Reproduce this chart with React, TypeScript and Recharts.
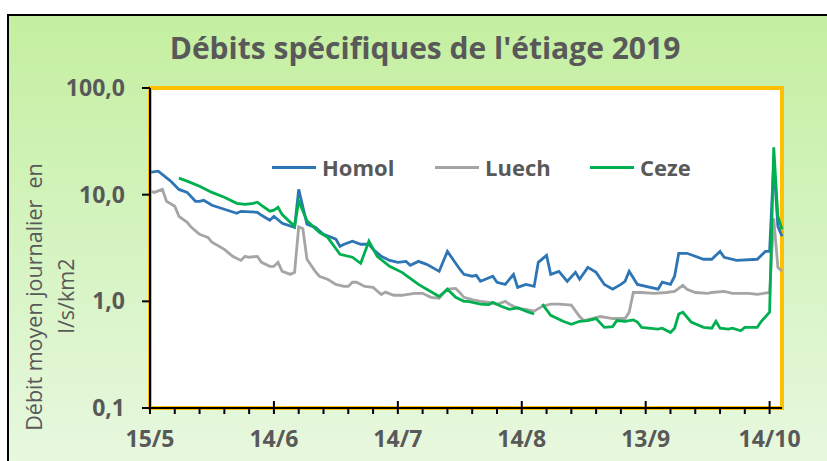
import React from 'react'
import { LineChart, Line, XAxis, YAxis, ReferenceArea } from 'recharts'

// day index from 15/5, value in l/s/km2
const homolPoints: [number, number][] = [
  [0, 16.2], [2, 16.6], [5, 13.4], [7, 11.2], [9, 10.5], [11, 8.67], [12, 8.67], [13, 8.86],
  [15, 7.95], [18, 7.3], [21, 6.69], [22, 6.98], [26, 6.84], [27, 6.41], [29, 5.75], [30, 6.27],
  [32, 5.39], [35, 4.94], [36, 11.2], [38, 5.28], [40, 4.94], [42, 4.25], [45, 3.82], [46, 3.28],
  [47, 3.43], [49, 3.66], [51, 3.43], [53, 3.43], [54, 3.07], [56, 2.64], [58, 2.42], [60, 2.32],
  [62, 2.37], [63, 2.18], [65, 2.37], [67, 2.22], [70, 1.91], [72, 2.94], [75, 2.0], [76, 1.79],
  [78, 1.72], [79, 1.75], [80, 1.54], [83, 1.72], [84, 1.51], [86, 1.44], [88, 1.79], [89, 1.35],
  [91, 1.44], [93, 1.38], [94, 2.32], [96, 2.7], [97, 1.79], [99, 1.91], [101, 1.54], [103, 1.87],
  [104, 1.61], [106, 2.08], [108, 1.87], [110, 1.44], [112, 1.3], [114, 1.44], [115, 1.54],
  [116, 1.91], [118, 1.44], [123, 1.3], [124, 1.51], [126, 1.44], [127, 1.72], [128, 2.82],
  [130, 2.82], [134, 2.48], [136, 2.48], [138, 2.94], [139, 2.59], [142, 2.42], [147, 2.48],
  [149, 2.94], [150, 2.94], [151, 20], [152, 5.05], [153, 4.07],
]

const luechPoints: [number, number][] = [
  [0, 10.8], [1, 10.5], [3, 11.2], [4, 8.67], [6, 7.78], [7, 6.27], [9, 5.5], [10, 4.94],
  [12, 4.25], [14, 3.98], [15, 3.58], [18, 3.07], [20, 2.64], [22, 2.42], [23, 2.64], [24, 2.59],
  [26, 2.64], [27, 2.32], [29, 2.13], [30, 2.13], [31, 2.32], [32, 1.91], [34, 1.79], [35, 1.87],
  [36, 5.0], [37, 4.8], [38, 2.48], [40, 1.91], [41, 1.72], [43, 1.61], [45, 1.44], [47, 1.38],
  [48, 1.38], [49, 1.51], [50, 1.51], [52, 1.38], [54, 1.35], [56, 1.16], [57, 1.22], [59, 1.14],
  [61, 1.14], [64, 1.19], [66, 1.19], [68, 1.09], [70, 1.07], [72, 1.3], [74, 1.32], [75, 1.21],
  [76, 1.09], [78, 1.04], [80, 1.0], [82, 0.98], [84, 0.94], [86, 1.0], [87, 0.94], [89, 0.86],
  [91, 0.84], [93, 0.81], [95, 0.9], [97, 0.94], [99, 0.94], [102, 0.92], [104, 0.72], [105, 0.66],
  [107, 0.69], [109, 0.72], [111, 0.7], [112, 0.69], [115, 0.69], [116, 0.79], [117, 1.21],
  [119, 1.21], [122, 1.19], [125, 1.21], [127, 1.24], [129, 1.41], [130, 1.3], [132, 1.21],
  [135, 1.19], [136, 1.21], [139, 1.24], [141, 1.19], [145, 1.19], [147, 1.16], [150, 1.21],
  [151, 6.0], [152, 2.08], [153, 1.91],
]

// null = missing day (line is broken there)
const cezePoints: [number, number | null][] = [
  [7, 14.3], [9, 13.4], [12, 12.0], [15, 10.5], [18, 9.45], [21, 8.3], [23, 8.1], [25, 8.3],
  [26, 8.5], [27, 7.95], [29, 7.0], [30, 7.15], [31, 7.6], [32, 6.5], [35, 5.05], [36, 8.67],
  [38, 5.7], [41, 4.44], [43, 3.98], [46, 2.76], [49, 2.59], [51, 2.27], [53, 3.66], [55, 2.64],
  [58, 2.13], [61, 1.87], [63, 1.64], [65, 1.44], [67, 1.3], [70, 1.11], [72, 1.3], [74, 1.09],
  [76, 1.0], [77, 1.0], [80, 0.94], [82, 0.93], [83, 0.98], [85, 0.9], [87, 0.84], [89, 0.87],
  [91, 0.81], [93, 0.76], [94, null], [95, 0.94], [97, 0.74], [100, 0.65], [102, 0.61],
  [104, 0.65], [106, 0.66], [108, 0.69], [110, 0.57], [112, 0.58], [113, 0.66], [115, 0.65],
  [117, 0.67], [118, 0.64], [119, 0.57], [123, 0.55], [124, 0.56], [126, 0.51], [127, 0.56],
  [128, 0.76], [129, 0.79], [131, 0.64], [134, 0.57], [136, 0.56], [137, 0.65], [138, 0.56],
  [140, 0.55], [141, 0.56], [143, 0.53], [144, 0.57], [147, 0.57], [148, 0.65], [150, 0.79],
  [151, 27.8], [152, 6.27], [153, 4.73],
]

const xTickLabels = ['15/5', '14/6', '14/7', '14/8', '13/9', '14/10']
const yTicks = [0.1, 1, 10, 100]

const series = [
  { name: 'Homol', color: '#2E75B6', points: homolPoints },
  { name: 'Luech', color: '#A5A5A5', points: luechPoints },
  { name: 'Ceze', color: '#00B050', points: cezePoints },
]

const FONT = "'Open Sans', 'Liberation Sans', sans-serif"
const GREY_TEXT = '#595959'

// minor tick every 6 days, major (labelled) every 30
const xTicks: number[] = []
for (let d = 0; d <= 150; d += 6) xTicks.push(d)

const DayTick = (props: any) => {
  const { x, y, payload } = props
  const d = payload.value
  const major = d % 30 === 0
  return (
    <g>
      <line x1={x} x2={x} y1={major ? y - 7 : y} y2={y + 6} stroke="#000" strokeWidth={2} />
      {major && (
        <text x={x} y={y + 39} textAnchor="middle" fill={GREY_TEXT} fontSize={23} fontWeight="bold" fontFamily={FONT}>
          {xTickLabels[d / 30]}
        </text>
      )}
    </g>
  )
}

const legendPos = [
  { line: 272, text: 322 },
  { line: 435, text: 485 },
  { line: 590, text: 640 },
]

const ChartLegend = () => (
  <>
    {series.map((s, i) => (
      <div key={s.name}>
        <div style={{ position: 'absolute', left: legendPos[i].line, top: 166, width: 44, height: 3, background: s.color }} />
        <div
          style={{
            position: 'absolute', left: legendPos[i].text, top: 152, lineHeight: '30px',
            fontFamily: FONT, fontWeight: 'bold', fontSize: 22, color: GREY_TEXT,
          }}
        >
          {s.name}
        </div>
      </div>
    ))}
  </>
)

export default function App() {
  return (
    <div style={{ position: 'absolute', left: 0, top: 0, width: 827, height: 461, background: '#fff', overflow: 'hidden' }}>
      <div
        style={{
          position: 'absolute', left: 7, top: 14, width: 820, height: 447, boxSizing: 'border-box',
          borderLeft: '2px solid #000', borderTop: '2px solid #000',
          background: 'linear-gradient(to bottom, #c4efa0 0%, #d3f3bd 45%, #e8f8df 100%)',
        }}
      />
      <div
        style={{
          position: 'absolute', left: 0, width: 850, top: 27, textAlign: 'center',
          fontFamily: FONT, fontWeight: 'bold', fontSize: 30, color: GREY_TEXT, lineHeight: '42px',
        }}
      >
        Débits spécifiques de l'étiage 2019
      </div>
      <div
        style={{
          position: 'absolute', left: 33, top: 297, transform: 'translate(-50%, -50%) rotate(-90deg)',
          whiteSpace: 'pre', fontFamily: FONT, fontSize: 21.5, color: GREY_TEXT,
        }}
      >
        {'Débit moyen journalier  en'}
      </div>
      <div
        style={{
          position: 'absolute', left: 65, top: 296, transform: 'translate(-50%, -50%) rotate(-90deg)',
          whiteSpace: 'pre', fontFamily: FONT, fontSize: 21.5, color: GREY_TEXT,
        }}
      >
        l/s/km2
      </div>
      <div style={{ position: 'absolute', left: 0, top: 0 }}>
        <LineChart width={827} height={461} margin={{ top: 88, right: 45, bottom: 8, left: 50 }}>
          <ReferenceArea
            x1={0} x2={153} y1={0.1} y2={100}
            fill="#fff" fillOpacity={1} stroke="#FFC000" strokeWidth={4}
            ifOverflow="visible"
          />
          <XAxis
            dataKey="day" type="number" domain={[0, 153]} ticks={xTicks} interval={0}
            height={45} tickSize={0} tickMargin={0} tickLine={false}
            axisLine={{ stroke: '#000', strokeWidth: 2 }}
            tick={<DayTick />}
            allowDuplicatedCategory={false}
          />
          <YAxis
            scale="log" domain={[0.1, 100]} ticks={yTicks} width={100} allowDataOverflow
            tickFormatter={(v: number) => v.toFixed(1).replace('.', ',')}
            tickSize={8} tickMargin={17}
            tickLine={{ stroke: '#000', strokeWidth: 2 }}
            axisLine={{ stroke: '#000', strokeWidth: 2 }}
            tick={{ fill: GREY_TEXT, fontSize: 23, fontWeight: 'bold', fontFamily: FONT }}
          />
          {series.map((s) => (
            <Line
              key={s.name}
              name={s.name}
              data={s.points.map(([day, v]) => ({ day, v }))}
              dataKey="v"
              type="linear"
              stroke={s.color}
              strokeWidth={2.8}
              dot={false}
              activeDot={false}
              isAnimationActive={false}
            />
          ))}
        </LineChart>
      </div>
      <ChartLegend />
    </div>
  )
}
